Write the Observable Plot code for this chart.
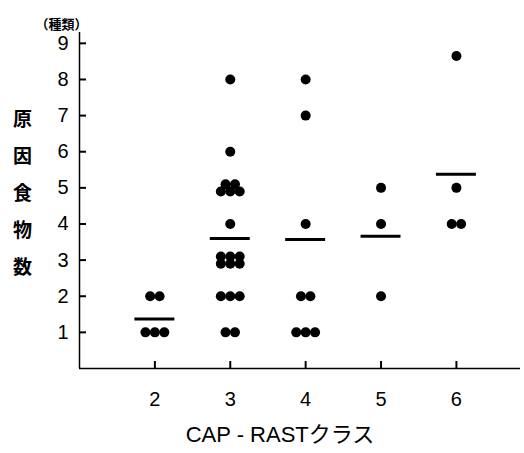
<!DOCTYPE html>
<html><head><meta charset="utf-8">
<script src="https://cdn.jsdelivr.net/npm/d3@7"></script>
<script src="https://cdn.jsdelivr.net/npm/@observablehq/plot@0.6"></script>
<style>body{margin:0;background:#fff} svg{display:block}</style>
</head><body><div id="chart"></div><script>
// CAP-RAST class -> number of causative foods (one entry per patient)
const class2 = [1, 1, 1, 2, 2];
const class3 = [1, 1, 2, 2, 2, 3, 3, 3, 3, 3, 3, 4, 5, 5, 5, 5, 5, 6, 8];
const class4 = [1, 1, 1, 2, 2, 4, 7, 8];
const class5 = [2, 4, 5];
const class6 = [4, 4, 5, 8.65];
const classes = [2, 3, 4, 5, 6];
const meanValues = [1.37, 3.6, 3.57, 3.66, 5.38];
const xTicks = [2, 3, 4, 5, 6];
const yTicks = [1, 2, 3, 4, 5, 6, 7, 8, 9];
const yLabel = "原因食物数";
const unitLabel = "（種類）";
const xLabel = "CAP - RASTクラス";

// build point table: identical values are laid out side by side (rows of up to 3)
const series = [class2, class3, class4, class5, class6];
const points = [];
const colStep = 0.125, rowStep = 0.2;
series.forEach((vals, ci) => {
  const groups = d3.group(vals, v => v);
  for (const [v, arr] of groups) {
    const n = arr.length;
    const nRows = Math.ceil(n / 3);
    const rows = [];
    for (let r = 0; r < nRows; r++) rows.push(r === 0 ? n - 3 * (nRows - 1) : 3);
    rows.forEach((k, r) => {
      const yOff = nRows > 1 ? ((nRows - 1) / 2 - r) * rowStep : 0;
      for (let i = 0; i < k; i++) {
        points.push({cls: classes[ci] + (i - (k - 1) / 2) * colStep, val: v + yOff});
      }
    });
  }
});
const means = classes.map((c, i) => ({c, m: meanValues[i]}));

const xMin = 1, yMin = 0;
const chart = Plot.plot({
  width: 524,
  height: 453,
  marginLeft: 79,
  marginRight: 4,
  marginTop: 32,
  marginBottom: 85,
  x: {domain: [xMin, 6.85]},
  y: {domain: [yMin, 9.3]},
  style: {fontFamily: "'Liberation Sans', Arial, 'Noto Sans CJK JP', sans-serif", fontSize: "20px", color: "#000", background: "#fff"},
  marks: [
    Plot.ruleX([xMin], {stroke: "#000", strokeWidth: 1.5}),
    Plot.ruleY([yMin], {stroke: "#000", strokeWidth: 1.5}),
    // axes whose ticks are shifted so they point into the plot
    Plot.axisY(yTicks, {anchor: "left", tickSize: 7, dx: 7, tickPadding: 11, label: null, fontSize: 20, strokeWidth: 2}),
    Plot.axisX(xTicks, {anchor: "bottom", tickSize: 7, dy: -7, tickPadding: 23, label: null, fontSize: 20, strokeWidth: 2}),
    Plot.ruleY(means, {y: "m", x1: d => d.c - 0.265, x2: d => d.c + 0.265, stroke: "#000", strokeWidth: 3}),
    Plot.dot(points, {x: "cls", y: "val", r: 5, fill: "#000", stroke: "none"}),
    Plot.text([yLabel.split("").join("\n")], {frameAnchor: "left", dx: -57, dy: -12, lineHeight: 1.95, fontSize: 19, fontWeight: "bold", textAnchor: "middle", fontFamily: "'Noto Sans CJK JP', sans-serif"}),
    Plot.text([unitLabel], {frameAnchor: "top-left", dx: -18, dy: -13, fontSize: 13, fontWeight: "bold", textAnchor: "middle", fontFamily: "'Noto Sans CJK JP', sans-serif"}),
    Plot.text([xLabel], {frameAnchor: "bottom", dx: -20, dy: 73, fontSize: 22, textAnchor: "middle"})
  ]
});
document.getElementById("chart").append(chart);
</script></body></html>
